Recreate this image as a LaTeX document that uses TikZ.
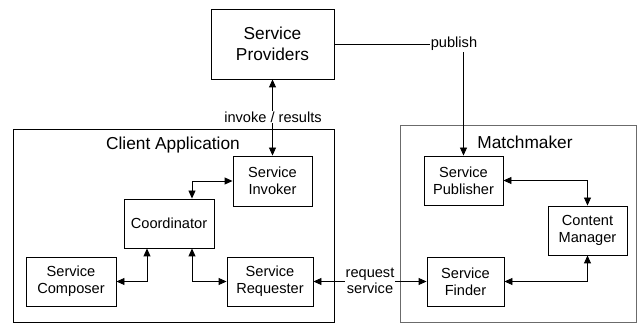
\documentclass[tikz,border=0pt]{standalone}
\usepackage{fontspec}
\setmainfont{Liberation Sans}
\usetikzlibrary{arrows.meta}
\begin{document}
\begin{tikzpicture}[x=1pt,y=-1pt,
  box/.style={draw=black,line width=0.9pt,rectangle,align=center,inner sep=0pt,
    font=\fontsize{14.6}{16.7}\selectfont},
  bigbox/.style={draw=black,line width=0.9pt,rectangle,align=center,inner sep=0pt,
    font=\fontsize{17.3}{20.7}\selectfont},
  frame/.style={line width=0.9pt,rectangle,inner sep=0pt},
  title/.style={font=\fontsize{17.3}{20.7}\selectfont},
  lbl/.style={fill=white,inner sep=1pt,align=center,font=\fontsize{14.6}{16.7}\selectfont},
  conn/.style={line width=0.9pt,>={Triangle[length=8pt,width=7pt]}}
]
\useasboundingbox (0,0) rectangle (638,323);
% outer frames
\node[frame,draw=black,minimum width=321pt,minimum height=193pt] (client) at (173.5,225.5) {};
\node[frame,draw=black!58,minimum width=236pt,minimum height=197pt] (match) at (518,223.5) {};
\node[title] (clientlbl) at (173,145) {Client Application};
\node[title] (matchlbl) at (525,142) {Matchmaker};
% boxes
\node[bigbox,minimum width=123pt,minimum height=70pt] (sp) at (272.5,44) {Service\\Providers};
\node[box,minimum width=79pt,minimum height=50pt] (inv) at (272.5,181) {Service\\Invoker};
\node[box,minimum width=90pt,minimum height=49pt] (coord) at (169,223.5) {Coordinator};
\node[box,minimum width=90pt,minimum height=49pt] (comp) at (71,281.5) {Service\\Composer};
\node[box,minimum width=86pt,minimum height=49pt] (req) at (270,281.5) {Service\\Requester};
\node[box,minimum width=79pt,minimum height=49pt] (pub) at (463.5,180.5) {Service\\Publisher};
\node[box,minimum width=79pt,minimum height=49pt] (cont) at (587.5,230.5) {Content\\Manager};
\node[box,minimum width=77pt,minimum height=49pt] (find) at (465.5,281.5) {Service\\Finder};
% helper coordinates
\coordinate (c1) at (192,0);
\coordinate (c2) at (147,0);
% connectors
\draw[conn,<->] (sp.south) -- (inv.north);
\draw[conn,<->] (coord.north -| c1) |- (inv.west);
\draw[conn,<->] (comp.east) -| (coord.south -| c2);
\draw[conn,<->] (coord.south -| c1) |- (req.west);
\draw[conn,<->] (req.east) -- (find.west);
\draw[conn,->] (sp.east) -| (pub.north);
\draw[conn,<->] (pub.east) -| (cont.north);
\draw[conn,<->] (find.east) -| (cont.south);
% labels
\node[lbl] (invlbl) at (273,117) {invoke / results};
\node[lbl] (reqlbl) at (370,281) {request\\service};
\node[lbl] (publbl) at (454,44) {publish};
\end{tikzpicture}
\end{document}
